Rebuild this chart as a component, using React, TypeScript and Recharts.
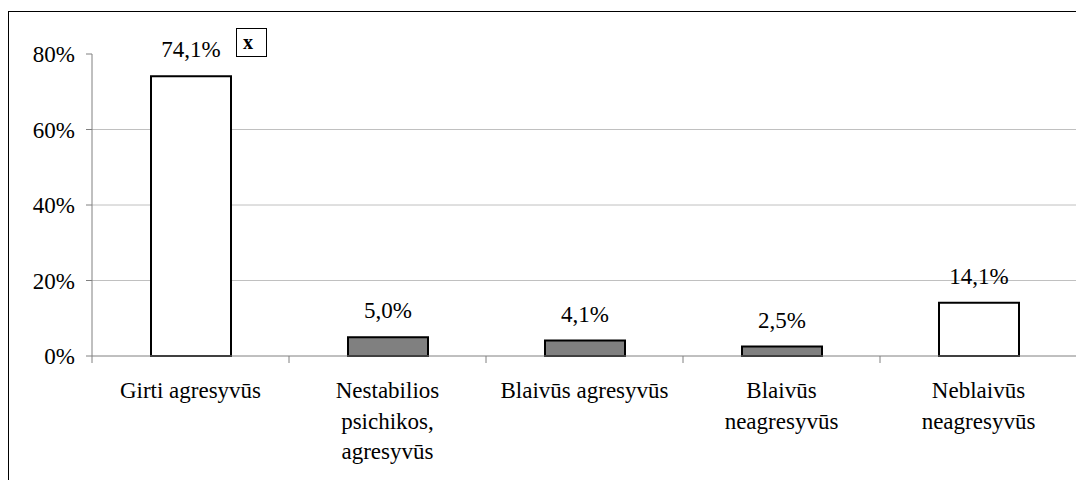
import { Bar, BarChart, CartesianGrid, Cell, LabelList, XAxis, YAxis } from "recharts";

const categories = [
  "Girti agresyvūs",
  "Nestabilios\npsichikos,\nagresyvūs",
  "Blaivūs agresyvūs",
  "Blaivūs\nneagresyvūs",
  "Neblaivūs\nneagresyvūs",
];
const shares = [74.1, 5.0, 4.1, 2.5, 14.1];
const yTicks = [0, 20, 40, 60, 80];

const barFills = ["#ffffff", "#808080", "#808080", "#808080", "#ffffff"];

const chartData = categories.map((name, i) => ({ name, value: shares[i] }));

const FONT = "'Liberation Serif', 'Times New Roman', serif";
const FONT_SIZE = 23;
const PLOT_WIDTH = 1076 - 84 - 7;

const formatPct = (v: number) => `${v.toFixed(1).replace(".", ",")}%`;

function CategoryTick(props: any) {
  const { x, y, payload, index } = props;
  const half = payload?.offset || PLOT_WIDTH / categories.length / 2;
  const lines = String(payload.value).split("\n");
  const last = index === categories.length - 1;
  return (
    <g>
      <line x1={x - half} x2={x - half} y1={y} y2={y + 7} stroke="#808080" />
      {last && (
        <line x1={x + half} x2={x + half} y1={y} y2={y + 7} stroke="#808080" />
      )}
      <text
        x={x}
        y={y + 42}
        textAnchor="middle"
        style={{ fontSize: FONT_SIZE, fontFamily: FONT, fill: "#000" }}
      >
        {lines.map((l, i) => (
          <tspan key={i} x={x} dy={i === 0 ? 0 : 30.5}>
            {l}
          </tspan>
        ))}
      </text>
    </g>
  );
}

export default function App() {
  return (
    <div
      style={{ position: "relative", width: 1076, height: 472, fontFamily: FONT }}
    >
      <div
        style={{
          position: "absolute",
          left: 0,
          top: 3,
          width: 1076,
          height: 469,
          borderTop: "1px solid #000",
          borderLeft: "1px solid #000",
          boxSizing: "border-box",
        }}
      />
      <div style={{ position: "absolute", left: 0, top: 0 }}>
        <BarChart
          width={1076}
          height={472}
          data={chartData}
          margin={{ top: 46, right: 7, left: 0, bottom: 24 }}
          barCategoryGap={0}
          style={{ fontFamily: FONT }}
        >
          <CartesianGrid
            vertical={false}
            horizontalValues={[20, 40, 60]}
            stroke="#c0c0c0"
          />
          <XAxis
            dataKey="name"
            interval={0}
            height={100}
            axisLine={{ stroke: "#808080" }}
            tickLine={false}
            tickSize={0}
            tickMargin={0}
            tick={<CategoryTick />}
          />
          <YAxis
            width={84}
            domain={[0, 80]}
            ticks={yTicks}
            tickFormatter={(v: number) => `${v}%`}
            axisLine={{ stroke: "#808080" }}
            tickLine={{ stroke: "#808080" }}
            tickSize={6}
            tickMargin={11}
            tick={{ fontSize: FONT_SIZE, fill: "#000", style: { fontFamily: FONT } }}
          />
          <Bar
            dataKey="value"
            barSize={80}
            stroke="#000"
            strokeWidth={2}
            isAnimationActive={false}
          >
            {chartData.map((d, i) => (
              <Cell key={d.name} fill={barFills[i]} />
            ))}
            <LabelList
              dataKey="value"
              position="top"
              offset={19}
              formatter={(v: any) => formatPct(Number(v))}
              style={{ fontSize: FONT_SIZE, fontFamily: FONT, fill: "#000" }}
            />
          </Bar>
        </BarChart>
      </div>
      <div
        style={{
          position: "absolute",
          left: 228,
          top: 20,
          width: 31,
          height: 29,
          border: "1px solid #000",
          boxSizing: "border-box",
          fontWeight: "bold",
          fontSize: 20,
          lineHeight: "27px",
          paddingLeft: 6,
          background: "#fff",
        }}
      >
        x
      </div>
    </div>
  );
}
